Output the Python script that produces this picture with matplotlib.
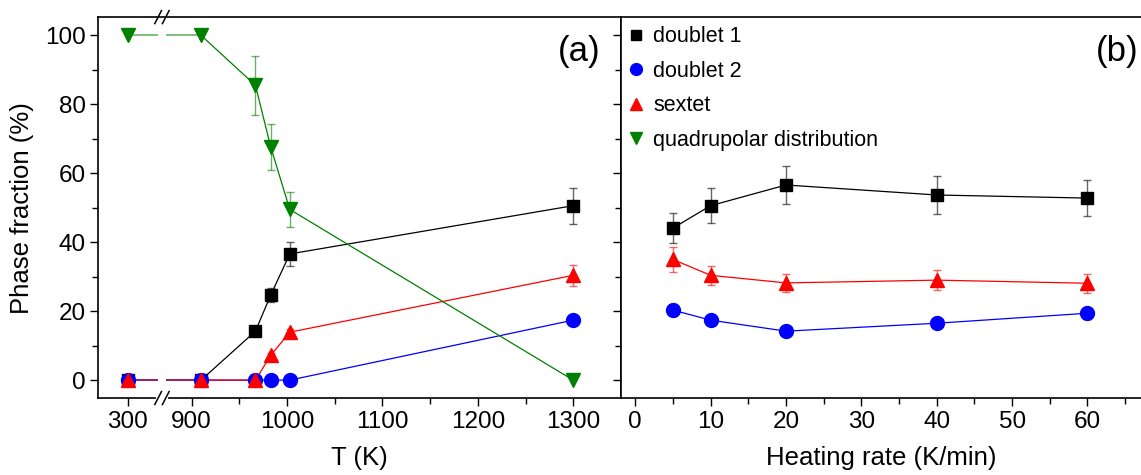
import numpy as np
import matplotlib
matplotlib.use('Agg')
import matplotlib.pyplot as plt
from matplotlib import font_manager as fm
from matplotlib.lines import Line2D

# keep the regular-width Liberation Sans, not the Narrow cut
fm.fontManager.ttflist = [f for f in fm.fontManager.ttflist
                          if 'Narrow' not in f.name and 'Narrow' not in f.fname]
plt.rcParams['font.family'] = ['Liberation Sans', 'DejaVu Sans']

# ---- (a) phase fraction vs annealing temperature ----
temp = [300, 910, 967, 983, 1003, 1300]
d1_t = [0, 0, 14.2, 24.7, 36.6, 50.6]
d1_t_err = [0, 0, 0, 2.0, 3.5, 5.2]
d2_t = [0, 0, 0, 0, 0, 17.4]
d2_t_err = [0, 0, 0, 0, 0, 1.5]
sx_t = [0, 0, 0, 7.2, 13.9, 30.4]
sx_t_err = [0, 0, 0, 0.8, 1.0, 3.0]
qd_t = [100, 100, 85.5, 67.6, 49.5, 0]
qd_t_err = [0, 0, 8.6, 6.7, 5.0, 0]

# ---- (b) phase fraction vs heating rate ----
rate = [5, 10, 20, 40, 60]
d1_r = [44.1, 50.6, 56.6, 53.7, 52.8]
d1_r_err = [4.4, 5.0, 5.6, 5.4, 5.2]
d2_r = [20.3, 17.4, 14.2, 16.5, 19.4]
d2_r_err = [1.8, 1.5, 0.8, 1.0, 1.6]
sx_r = [35.0, 30.4, 28.2, 29.0, 28.1]
sx_r_err = [3.5, 2.8, 2.6, 2.8, 2.7]

labels = ['doublet 1', 'doublet 2', 'sextet', 'quadrupolar distribution']
colors = ['black', '#0000ff', '#ff0000', '#008000']
markers = ['s', 'o', '^', 'v']
msizes = [9, 10, 10.5, 10.5]

# broken T axis: 300 K is drawn just left of the break
shift = 533
brk = 869
gap = 5


def tpos(t):
    t = np.asarray(t, dtype=float)
    return np.where(t < 900, t + shift, t)


fig = plt.figure(figsize=(11.41, 4.75), dpi=100)
axa = fig.add_axes([0.0859, 0.162, 0.4583, 0.802])
axb = fig.add_axes([0.5442, 0.162, 0.4558, 0.802])

series_t = [(d1_t, d1_t_err), (d2_t, d2_t_err), (sx_t, sx_t_err), (qd_t, qd_t_err)]
xs = tpos(temp)
for (y, e), c, m, ms in zip(series_t, colors, markers, msizes):
    y = np.asarray(y, dtype=float)
    # segment across the break, with a gap
    xa = [xs[0], brk - gap]
    xb = [brk + gap, xs[1]]
    ya = np.interp(xa, xs[:2], y[:2])
    yb = np.interp(xb, xs[:2], y[:2])
    axa.plot(xa, ya, color=c, lw=1.3, alpha=0.55, zorder=2)
    axa.plot(xb, yb, color=c, lw=1.3, alpha=0.55, zorder=2)
    axa.plot(xs[1:], y[1:], color=c, lw=0.9, zorder=2)
    e = np.asarray(e, dtype=float)
    has = e > 0
    axa.errorbar(xs[has], y[has], yerr=e[has], fmt='none', ecolor=c,
                 elinewidth=1.0, capsize=3, capthick=1.0, alpha=0.6, zorder=3)
    axa.plot(xs, y, ls='none', marker=m, ms=ms, color=c, mec=c, zorder=4)

series_r = [(d1_r, d1_r_err), (d2_r, d2_r_err), (sx_r, sx_r_err)]
for (y, e), c, m, ms in zip(series_r, colors, markers, msizes):
    axb.plot(rate, y, color=c, lw=0.9, zorder=2)
    axb.errorbar(rate, y, yerr=e, fmt='none', ecolor=c, elinewidth=1.0,
                 capsize=3, capthick=1.0, alpha=0.6, zorder=3)
    axb.plot(rate, y, ls='none', marker=m, ms=ms, color=c, mec=c, zorder=4)

for ax in (axa, axb):
    ax.set_ylim(-5.2, 105.3)
    ax.set_yticks(np.arange(0, 101, 20))
    ax.set_yticks(np.arange(10, 100, 20), minor=True)
    ax.tick_params(axis='both', which='major', direction='out', length=6,
                   width=1, labelsize=17.5, pad=3)
    ax.tick_params(axis='both', which='minor', direction='out', length=4, width=1)
    ax.tick_params(axis='x', which='both', top=False)
    ax.spines['top'].set_linewidth(1.2)
    ax.spines['bottom'].set_linewidth(1.2)
    ax.spines['left'].set_linewidth(1.2)

axa.set_xlim(802, 1350)
axa.set_xticks(tpos([300, 900, 1000, 1100, 1200, 1300]))
axa.set_xticklabels(['300', '900', '1000', '1100', '1200', '1300'])
axa.set_xticks([950, 1050, 1150, 1250], minor=True)
axa.spines['right'].set_linewidth(1.2)
axa.set_xlabel('T (K)', fontsize=18.5, labelpad=10)
axa.set_ylabel('Phase fraction (%)', fontsize=18.5, labelpad=8)
axa.text(0.96, 0.91, '(a)', transform=axa.transAxes, ha='right', va='center',
         fontsize=25)

# break marks on the T axis
xtr = axa.get_xaxis_transform()
axa.plot([brk - 4, brk + 4], [0, 0], transform=xtr, color='white', lw=3,
         clip_on=False, zorder=5)
for yb in (0, 1):
    for dx in (-4, 4):
        axa.plot([brk + dx - 3.5, brk + dx + 3.5], [yb - 0.017, yb + 0.017],
                 transform=xtr, color='black', lw=1.1,
                 clip_on=False, zorder=6)

axb.set_xlim(-1.9, 67.1)
axb.set_xticks(np.arange(0, 61, 10))
axb.set_xticks(np.arange(5, 66, 10), minor=True)
axb.tick_params(axis='y', which='both', labelleft=False)
axb.spines['right'].set_visible(False)
axb.set_xlabel('Heating rate (K/min)', fontsize=18.5, labelpad=10)
axb.text(0.995, 0.91, '(b)', transform=axb.transAxes, ha='right', va='center',
         fontsize=25)

handles = [Line2D([], [], ls='none', marker=m, color=c, ms=ms * 0.85)
           for c, m, ms in zip(colors, markers, msizes)]
axb.legend(handles, labels, loc='upper left', frameon=False, fontsize=15.5,
           handlelength=0.6, handletextpad=0.5, labelspacing=0.62,
           borderaxespad=0.0, bbox_to_anchor=(0.0, 0.998))

fig.savefig('out.png', dpi=100)
